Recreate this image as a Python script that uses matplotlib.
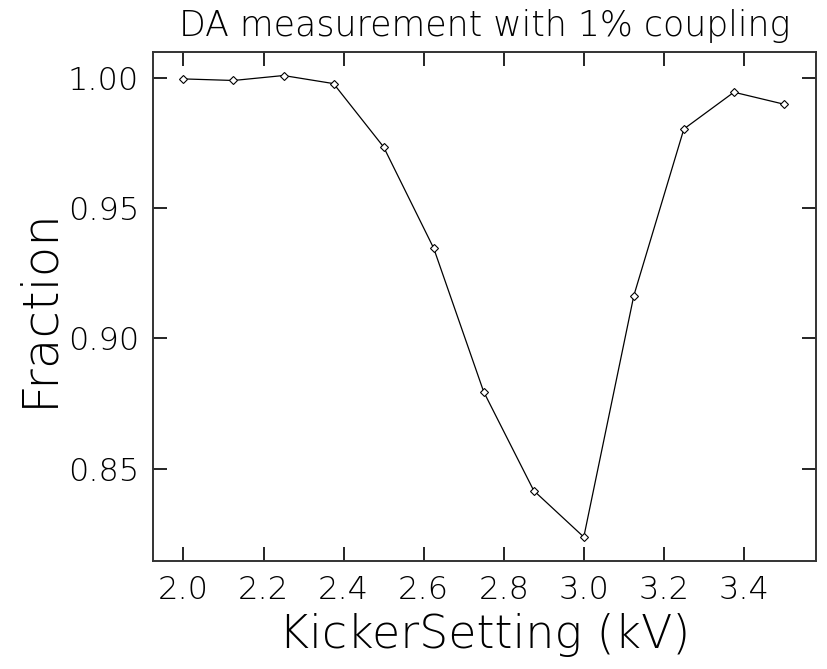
import numpy as np
import matplotlib.pyplot as plt

# kicker settings (kV) and surviving fraction
kicker = [2.0, 2.125, 2.25, 2.375, 2.5, 2.625, 2.75, 2.875, 3.0, 3.125, 3.25, 3.375, 3.5]
fraction = [0.9995, 0.9989, 1.0008, 0.9977, 0.9734, 0.9346, 0.8795, 0.8416, 0.8238,
            0.9164, 0.9803, 0.9944, 0.9898]

xticks = [2.0, 2.2, 2.4, 2.6, 2.8, 3.0, 3.2, 3.4]
yticks = [0.85, 0.90, 0.95, 1.00]

plt.rcParams['font.family'] = ['DejaVu Sans']
plt.rcParams['font.weight'] = 'light'

fig = plt.figure(figsize=(8.28, 6.69), dpi=100)
ax = fig.add_axes([0.1848, 0.1614, 0.8007, 0.7604])

ax.plot(kicker, fraction, color='black', linewidth=0.9, marker='D', markersize=4,
        markerfacecolor='white', markeredgecolor='black', markeredgewidth=0.8)

ax.set_xlim(1.924, 3.58)
ax.set_ylim(0.8146, 1.0097)
ax.set_xticks(xticks)
ax.set_xticklabels(['%.1f' % t for t in xticks])
ax.set_yticks(yticks)
ax.set_yticklabels(['%.2f' % t for t in yticks])

ax.tick_params(direction='in', length=10, width=1.2, top=True, right=True,
               labelsize=23, pad=10, colors='black')
for s in ax.spines.values():
    s.set_linewidth(1.4)
    s.set_color('#333333')

ax.set_title('DA measurement with 1% coupling', fontsize=25, pad=12, fontweight='light')
ax.set_xlabel('KickerSetting (kV)', fontsize=33, labelpad=6, fontweight='light')
ax.set_ylabel('Fraction', fontsize=36, labelpad=4, fontweight='light')

fig.savefig('out.png', dpi=100)
